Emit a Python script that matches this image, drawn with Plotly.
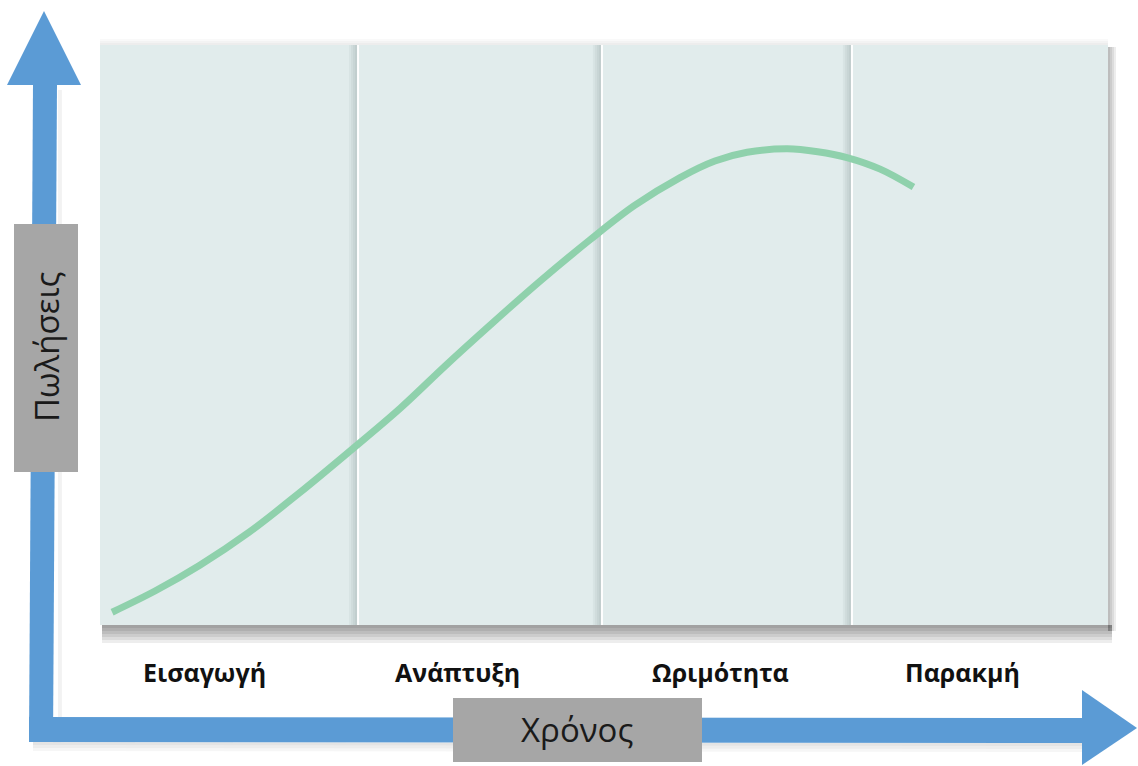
import plotly.graph_objects as go

# ---------------- data ----------------
stage_labels = ["Εισαγωγή", "Ανάπτυξη", "Ωριμότητα", "Παρακμή"]
stage_label_pos = [10.4, 35.5, 61.6, 85.6]          # time position of each label
stage_bounds = [25.5, 49.7, 74.5]                    # borders between stages (time)

time = [1.2, 5.5, 9.9, 14.8, 19.8, 24.8, 29.8, 34.2, 38.7, 43.6, 48.6,
        53.0, 57.5, 61.0, 64.2, 68.2, 71.2, 74.1, 77.4, 80.7]
sales = [2.2, 5.9, 10.3, 16.0, 22.8, 30.0, 37.4, 44.6, 51.7, 59.2, 66.4,
         72.3, 77.1, 80.0, 81.5, 82.1, 81.6, 80.6, 78.6, 75.5]

x_title = "Χρόνος"
y_title = "Πωλήσεις"

# ---------------- layout geometry ----------------
W, H = 1138, 766
L, R, T, B = 100, 1108, 45, 625          # panel (plot area) in pixels
X_MAX, Y_MAX = 100.0, 100.0

def px(x):
    return (x - L) / (R - L)

def py(y):
    return (B - y) / (B - T)

def path(points):
    return "M " + " L ".join(f"{px(a):.5f},{py(b):.5f}" for a, b in points) + " Z"

BLUE = "#5b9bd5"
GREY_BOX = "#a6a6a6"
PANEL = "#e1ecec"
GREEN = "#8fd1ac"

shapes = []

# panel shadows (bottom / right / top)
for d in [3, 6, 9, 12, 15, 18]:
    shapes.append(dict(type="rect", xref="paper", yref="paper",
                       x0=px(L + 2), x1=px(R + 4), y0=py(B + d), y1=py(B),
                       fillcolor="rgba(0,0,0,0.07)", line_width=0, layer="below"))
for d in [2, 4, 6, 8]:
    shapes.append(dict(type="rect", xref="paper", yref="paper",
                       x0=px(R), x1=px(R + d), y0=py(B + 6), y1=py(T + 2),
                       fillcolor="rgba(0,0,0,0.07)", line_width=0, layer="below"))
for d in [2, 4, 6]:
    shapes.append(dict(type="rect", xref="paper", yref="paper",
                       x0=px(L), x1=px(R), y0=py(T), y1=py(T - d),
                       fillcolor="rgba(0,0,0,0.025)", line_width=0, layer="below"))

# panel
shapes.append(dict(type="rect", xref="paper", yref="paper",
                   x0=0, x1=1, y0=0, y1=1, fillcolor=PANEL, line_width=0, layer="below"))

# stage dividers: shadow on left, white line
for xb in stage_bounds:
    for w in [0.2, 0.4, 0.6, 0.8]:
        shapes.append(dict(type="rect", xref="x", yref="paper",
                           x0=xb - w, x1=xb, y0=0, y1=1,
                           fillcolor="rgba(90,100,105,0.06)", line_width=0, layer="below"))
    shapes.append(dict(type="line", xref="x", yref="paper",
                       x0=xb + 0.1, x1=xb + 0.1, y0=0, y1=1,
                       line=dict(color="rgba(255,255,255,0.95)", width=2), layer="below"))

# arrow shadows
for d in [3, 6, 9]:
    shapes.append(dict(type="path", xref="paper", yref="paper",
                       path=path([(33, 742), (1082, 743), (1082, 743 + d), (33, 742 + d)]),
                       fillcolor="rgba(0,0,0,0.035)", line_width=0, layer="below"))
shapes.append(dict(type="path", xref="paper", yref="paper",
                   path=path([(58, 90), (58, 717), (62, 717), (62, 90)]),
                   fillcolor="rgba(0,0,0,0.05)", line_width=0, layer="below"))

# vertical arrow
shapes.append(dict(type="path", xref="paper", yref="paper",
                   path=path([(33, 84), (57, 84), (53, 742), (29, 742)]),
                   fillcolor=BLUE, line_width=0, layer="below"))
shapes.append(dict(type="path", xref="paper", yref="paper",
                   path=path([(44, 11), (81, 85), (7, 85)]),
                   fillcolor=BLUE, line_width=0, layer="below"))
# horizontal arrow
shapes.append(dict(type="path", xref="paper", yref="paper",
                   path=path([(29, 717), (1083, 718), (1083, 743), (29, 742)]),
                   fillcolor=BLUE, line_width=0, layer="below"))
shapes.append(dict(type="path", xref="paper", yref="paper",
                   path=path([(1082, 690), (1137, 728), (1082, 765)]),
                   fillcolor=BLUE, line_width=0, layer="below"))

# grey title boxes
shapes.append(dict(type="rect", xref="paper", yref="paper",
                   x0=px(14), x1=px(78), y0=py(472), y1=py(224),
                   fillcolor=GREY_BOX, line_width=0, layer="below"))
shapes.append(dict(type="rect", xref="paper", yref="paper",
                   x0=px(453), x1=px(702), y0=py(762), y1=py(698),
                   fillcolor=GREY_BOX, line_width=0, layer="below"))

annotations = []
for lab, xpos in zip(stage_labels, stage_label_pos):
    annotations.append(dict(x=xpos, y=py(672), xref="x", yref="paper",
                            text=f"<b>{lab}</b>", showarrow=False,
                            font=dict(family="Open Sans", size=25, color="#111111"),
                            xanchor="center", yanchor="middle"))
annotations.append(dict(x=px(577), y=py(729), xref="paper", yref="paper",
                        text=x_title, showarrow=False,
                        font=dict(family="Open Sans", size=33, color="#1a1a1a"),
                        xanchor="center", yanchor="middle"))
annotations.append(dict(x=px(46), y=py(347), xref="paper", yref="paper",
                        text=y_title, showarrow=False, textangle=-90,
                        font=dict(family="Open Sans", size=33, color="#1a1a1a"),
                        xanchor="center", yanchor="middle"))

fig = go.Figure()
fig.add_trace(go.Scatter(x=time, y=sales, mode="lines",
                         line=dict(color=GREEN, width=7, shape="spline", smoothing=1.0),
                         hoverinfo="skip", showlegend=False))

fig.update_layout(
    width=W, height=H, autosize=False,
    margin=dict(l=L, r=W - R, t=T, b=H - B, pad=0),
    paper_bgcolor="white", plot_bgcolor="rgba(0,0,0,0)",
    xaxis=dict(range=[0, X_MAX], visible=False, fixedrange=True),
    yaxis=dict(range=[0, Y_MAX], visible=False, fixedrange=True),
    shapes=shapes, annotations=annotations, showlegend=False,
)

fig.write_html("out.html", config=dict(displayModeBar=False))
